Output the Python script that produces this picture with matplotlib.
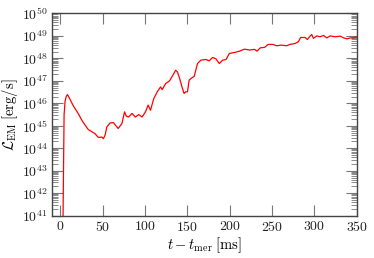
import numpy as np
import matplotlib
matplotlib.use("Agg")
import matplotlib.pyplot as plt
from matplotlib.ticker import LogLocator, NullFormatter

plt.rcParams["font.family"] = "serif"
plt.rcParams["font.serif"] = ["cmr10"]
plt.rcParams["mathtext.fontset"] = "cm"
plt.rcParams["axes.formatter.use_mathtext"] = True
plt.rcParams["axes.unicode_minus"] = False

# time after merger [ms]
t_ms = [2.8, 3.6, 4.3, 5.5, 6.8, 8.3, 11.0, 15.0, 20.9, 26.0, 32.9, 36.5,
        40.8, 44.8, 48.8, 50.7, 52.7, 54.8, 58.7, 62.6, 66.6, 68.2, 72.6,
        75.7, 77.7, 80.5, 84.5, 88.5, 92.4, 96.4, 100.4, 103.6, 106.3,
        110.2, 114.3, 118.2, 120.2, 124.2, 128.9, 132.1, 136.1, 138.1,
        140.8, 144.1, 146.0, 148.0, 150.0, 152.0, 153.9, 157.9, 161.9,
        165.8, 171.8, 175.7, 179.7, 183.6, 187.6, 191.6, 195.6, 199.5,
        205.5, 211.4, 217.4, 223.3, 229.3, 232.1, 236.1, 241.2, 245.2,
        251.2, 255.1, 261.1, 267.0, 271.0, 277.0, 281.0, 283.7, 288.8,
        291.7, 294.8, 296.8, 298.8, 302.7, 306.7, 310.7, 314.6, 318.6,
        324.5, 330.5, 334.5, 338.5, 342.4, 346.4, 350.0]
# log10 of EM luminosity [erg/s]
log_lum = [40.0, 43.0, 45.5, 46.1, 46.3, 46.39, 46.2, 45.9, 45.55, 45.2,
           44.83, 44.75, 44.65, 44.48, 44.5, 44.43, 44.58, 44.95, 45.13,
           45.14, 44.95, 44.88, 45.1, 45.62, 45.43, 45.39, 45.55, 45.39,
           45.5, 45.39, 45.62, 45.92, 45.69, 46.21, 46.51, 46.73, 46.61,
           46.88, 47.0, 47.21, 47.47, 47.40, 47.1, 46.66, 46.44, 46.51,
           46.51, 47.03, 47.1, 47.2, 47.77, 47.92, 47.95, 47.89, 48.04,
           47.98, 47.77, 47.92, 47.95, 48.22, 48.26, 48.32, 48.41, 48.37,
           48.40, 48.32, 48.47, 48.49, 48.62, 48.62, 48.56, 48.59, 48.56,
           48.62, 48.66, 48.74, 48.93, 48.93, 48.84, 48.99, 49.06, 48.89,
           49.0, 48.96, 49.02, 48.91, 49.0, 48.96, 48.99, 48.91, 48.87,
           48.91, 48.91, 48.96]

lum = 10.0 ** np.array(log_lum)

fig = plt.figure(figsize=(3.74, 2.58), dpi=100)
ax = fig.add_axes([0.139, 0.164, 0.815, 0.784])
ax.plot(t_ms, lum, color="red", lw=0.9)

ax.set_yscale("log")
ax.set_xlim(-10, 350)
ax.set_ylim(1e41, 1e50)
ax.set_xticks([0, 50, 100, 150, 200, 250, 300, 350])
ax.yaxis.set_major_locator(LogLocator(base=10, numticks=20))
ax.yaxis.set_minor_locator(LogLocator(base=10, subs=np.arange(2, 10), numticks=20))
ax.yaxis.set_minor_formatter(NullFormatter())

for s in ax.spines.values():
    s.set_color("#444444")
    s.set_linewidth(1.0)
ax.tick_params(which="both", direction="in", top=True, right=True,
               color="#777777", labelsize=10, labelcolor="#222222")
ax.tick_params(which="major", length=8, width=0.8, pad=3)
ax.tick_params(which="minor", length=4, width=0.6)

ax.set_xlabel(r"$t - t_{\rm mer}\;[{\rm ms}]$", fontsize=10.5, labelpad=1)
ax.set_ylabel(r"$\mathcal{L}_{\rm EM}\;[{\rm erg/s}]$", fontsize=10.5, labelpad=1)

fig.savefig("out.png", dpi=100)
